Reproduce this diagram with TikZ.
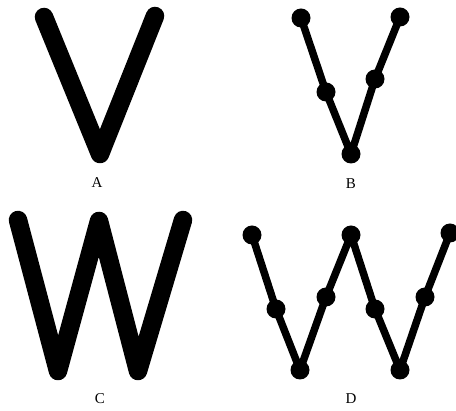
\documentclass[tikz,border=0pt]{standalone}
\usepackage{fontspec}
\setmainfont{Liberation Serif}
\tikzset{
  thick stroke/.style={line width=18.5pt, line cap=round, line join=round},
  thin stroke/.style={line width=7.5pt, line join=round},
  dot/.style={circle, fill=black, inner sep=0pt, minimum size=19pt},
  lab/.style={font=\fontsize{15}{15}\selectfont, inner sep=0pt}
}
\begin{document}
\begin{tikzpicture}[x=1pt,y=-1pt]
\useasboundingbox (0,0) rectangle (456,411);
% A
\coordinate (a1) at (44,17);
\coordinate (a2) at (100,154);
\coordinate (a3) at (155,16);
\draw[thick stroke] (a1) -- (a2) -- (a3);
\node[lab] (la) at (97,183) {A};
% B
\node[dot] (b1) at (301,18) {};
\node[dot] (b2) at (326,92) {};
\node[dot] (b3) at (351,154) {};
\node[dot] (b4) at (375,79) {};
\node[dot] (b5) at (400,17) {};
\draw[thin stroke] (b1.center) -- (b2.center) -- (b3.center) -- (b4.center) -- (b5.center);
\node[lab] (lb) at (351,184) {B};
% C
\coordinate (c1) at (18,220);
\coordinate (c2) at (58,371);
\coordinate (c3) at (99,221);
\coordinate (c4) at (138,371);
\coordinate (c5) at (183,220);
\draw[thick stroke] (c1) -- (c2) -- (c3) -- (c4) -- (c5);
\node[lab] (lc) at (100,399) {C};
% D
\node[dot] (d1) at (252,235) {};
\node[dot] (d2) at (276,309) {};
\node[dot] (d3) at (300,370) {};
\node[dot] (d4) at (326,297) {};
\node[dot] (d5) at (351,235) {};
\node[dot] (d6) at (375,309) {};
\node[dot] (d7) at (400,370) {};
\node[dot] (d8) at (425,297) {};
\node[dot] (d9) at (450,233) {};
\draw[thin stroke] (d1.center) -- (d2.center) -- (d3.center) -- (d4.center) -- (d5.center) -- (d6.center) -- (d7.center) -- (d8.center) -- (d9.center);
\node[lab] (ld) at (351,399) {D};
\end{tikzpicture}
\end{document}
